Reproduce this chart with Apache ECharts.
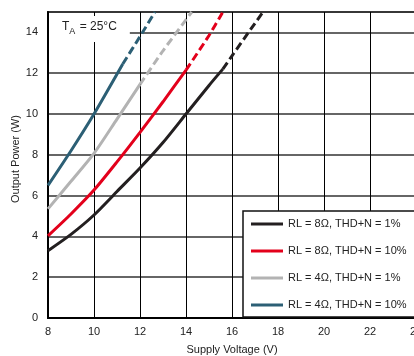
<!DOCTYPE html>
<html>
<head>
<meta charset="utf-8">
<script src="https://cdn.jsdelivr.net/npm/echarts@6/dist/echarts.min.js"></script>
<style>html,body{margin:0;padding:0;background:#fff}#c{width:414px;height:356px}</style>
</head>
<body>
<div id="c"></div>
<script>
// Data (x = Supply Voltage V, y = Output Power W)
const xTicks = [8, 10, 12, 14, 16, 18, 20, 22, 24];
const yTicks = [0, 2, 4, 6, 8, 10, 12, 14];
const seriesNames = ['RL = 8Ω, THD+N = 1%', 'RL = 8Ω, THD+N = 10%', 'RL = 4Ω, THD+N = 1%', 'RL = 4Ω, THD+N = 10%'];
const rl8thd1Solid  = [[8, 3.3], [9, 4.1], [10, 5.05], [11, 6.2], [12, 7.35], [13, 8.6], [14, 10], [15, 11.4], [15.6, 12.2]];
const rl8thd1Dash   = [[15.6, 12.2], [16, 12.85], [17, 14.45], [17.35, 15]];
const rl8thd10Solid = [[8, 4.03], [9, 5.1], [10, 6.27], [11, 7.65], [12, 9.1], [13, 10.6], [14, 12.15]];
const rl8thd10Dash  = [[14, 12.15], [15, 13.85], [15.6, 15]];
const rl4thd1Solid  = [[8, 5.35], [9, 6.7], [10, 8.07], [11, 9.75], [12, 11.45]];
const rl4thd1Dash   = [[12, 11.45], [13, 13.1], [14.25, 15]];
const rl4thd10Solid = [[8, 6.5], [9, 8.2], [10, 10], [11.25, 12.45]];
const rl4thd10Dash  = [[11.25, 12.45], [12, 13.8], [12.65, 15]];

const colors = ['#231f20', '#e3001b', '#b3b3b3', '#2c5f75'];
const solids = [rl8thd1Solid, rl8thd10Solid, rl4thd1Solid, rl4thd10Solid];
const dashes = [rl8thd1Dash, rl8thd10Dash, rl4thd1Dash, rl4thd10Dash];

const font = 'Liberation Sans, Arial, sans-serif';
const series = [];
seriesNames.forEach((n, i) => {
  series.push({ name: n, type: 'line', data: solids[i], smooth: 0.25, symbol: 'none',
    lineStyle: { color: colors[i], width: 3 }, itemStyle: { color: colors[i] } });
});
seriesNames.forEach((n, i) => {
  series.push({ name: n, type: 'line', data: dashes[i], smooth: 0.25, symbol: 'none',
    lineStyle: { color: colors[i], width: 3, type: [8, 4] }, itemStyle: { color: colors[i] } });
});

const chart = echarts.init(document.getElementById('c'), null, { renderer: 'canvas' });
chart.setOption({
  animation: false,
  backgroundColor: '#fff',
  textStyle: { fontFamily: font },
  grid: { left: 48, right: -2, top: 12, bottom: 38, outerBoundsMode: 'none', containLabel: false,
    show: true, borderColor: '#444', borderWidth: 2, backgroundColor: 'transparent' },
  title: {
    text: '{t|T}{s|A}{t| = 25°C}',
    left: 49, top: 13,
    padding: [5, 13, 6, 13],
    backgroundColor: '#fff',
    textStyle: {
      fontWeight: 'normal',
      rich: {
        t: { fontSize: 12, color: '#222', fontFamily: font, fontWeight: 'normal', verticalAlign: 'bottom', lineHeight: 15 },
        s: { fontSize: 9, color: '#222', fontFamily: font, fontWeight: 'normal', verticalAlign: 'bottom', lineHeight: 11, padding: [0, 1, -3, 0] }
      }
    }
  },
  legend: {
    orient: 'vertical',
    left: 243, top: 211,
    padding: [6, 30, 5, 8],
    itemWidth: 32, itemHeight: 3, itemGap: 13,
    icon: 'rect',
    backgroundColor: '#fff', borderColor: '#111', borderWidth: 1.5,
    data: seriesNames,
    textStyle: { fontSize: 11, color: '#222', fontFamily: font, lineHeight: 14 }
  },
  xAxis: {
    type: 'value', min: xTicks[0], max: xTicks[xTicks.length - 1], interval: 2,
    name: 'Supply Voltage (V)', nameLocation: 'middle', nameGap: 26,
    nameTextStyle: { fontSize: 11, color: '#222', fontFamily: font },
    axisLine: { show: true, lineStyle: { color: '#000', width: 2 } },
    axisTick: { show: false },
    axisLabel: { fontSize: 11, color: '#222', margin: 8, fontFamily: font },
    splitLine: { show: true, lineStyle: { color: '#000', width: 1 } }
  },
  yAxis: {
    type: 'value', min: yTicks[0], max: 15, interval: 2,
    name: 'Output Power (W)', nameLocation: 'middle', nameGap: 27, nameMoveOverlap: false,
    nameTextStyle: { fontSize: 11, color: '#222', fontFamily: font, padding: [0, 0, 0, 12] },
    axisLine: { show: true, onZero: false, lineStyle: { color: '#000', width: 2 } },
    axisTick: { show: false },
    axisLabel: { fontSize: 11, color: '#222', margin: 10, showMaxLabel: false, fontFamily: font },
    splitLine: { show: true, lineStyle: { color: '#333', width: 1.5 } }
  },
  series: series
});
</script>
</body>
</html>
